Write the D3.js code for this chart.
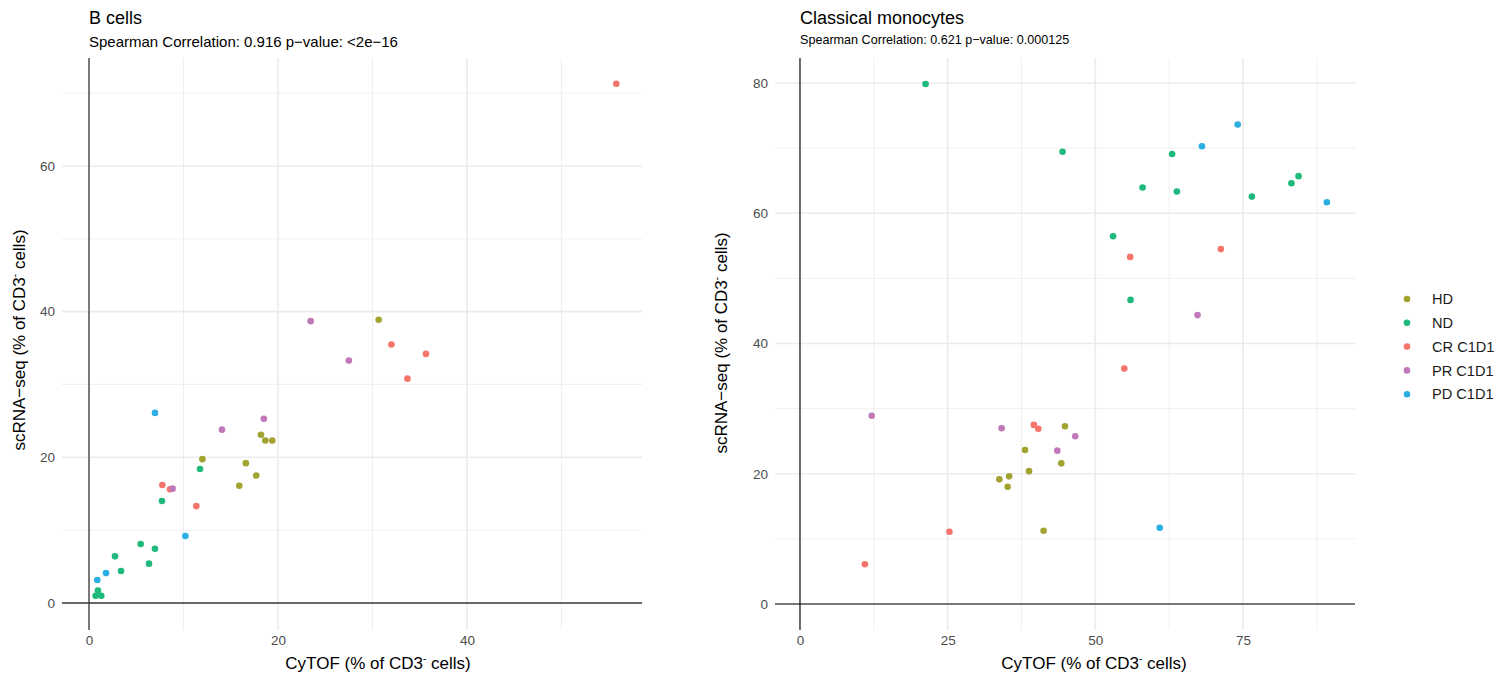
<!DOCTYPE html>
<html>
  <head>
    <meta charset="utf-8">
    <script src="https://d3js.org/d3.v7.min.js"></script>
    <style>
      body { margin: 0; background: #fff; }
      svg { font-family: "Liberation Sans", Arial, sans-serif; }
    </style>
  </head>
<body>
  <script type="text/javascript">
    /*
      Data (x = CyTOF %, y = scRNA-seq %)
    */
    var groups = ["HD", "ND", "CR C1D1", "PR C1D1", "PD C1D1"];
    var groupColors = ["#A3A332", "#1EB97B", "#F5756B", "#C178B8", "#2BAEE4"];

    // B cells
    var bHD = [[30.65, 38.9], [12.0, 19.75], [16.6, 19.2], [18.2, 23.1], [18.66, 22.3], [19.4, 22.3], [17.7, 17.5], [15.9, 16.1]];
    var bND = [[11.75, 18.4], [7.72, 14.0], [5.47, 8.1], [6.98, 7.45], [2.75, 6.4], [6.35, 5.4], [3.39, 4.4], [0.95, 1.7], [0.7, 1.0], [1.3, 1.0]];
    var bCR = [[55.8, 71.3], [32.0, 35.5], [35.66, 34.2], [33.7, 30.8], [7.76, 16.2], [8.57, 15.6], [11.36, 13.3]];
    var bPR = [[23.46, 38.7], [27.5, 33.3], [18.5, 25.3], [14.07, 23.8], [8.85, 15.7]];
    var bPD = [[6.98, 26.1], [10.2, 9.2], [1.8, 4.1], [0.88, 3.15]];

    // Classical monocytes
    var mHD = [[44.86, 27.3], [38.1, 23.65], [44.24, 21.6], [38.77, 20.4], [35.4, 19.6], [33.75, 19.15], [35.15, 18.0], [41.24, 11.26]];
    var mND = [[21.26, 79.85], [44.45, 69.44], [63.0, 69.1], [58.0, 63.95], [63.8, 63.33], [76.5, 62.56], [83.2, 64.6], [84.4, 65.7], [53.0, 56.46], [55.96, 46.7]];
    var mCR = [[55.9, 53.3], [71.25, 54.5], [54.9, 36.15], [39.6, 27.5], [40.35, 26.9], [25.3, 11.1], [11.0, 6.1]];
    var mPR = [[67.3, 44.36], [12.14, 28.9], [34.14, 27.0], [46.6, 25.75], [43.56, 23.55]];
    var mPD = [[74.1, 73.64], [68.05, 70.3], [89.2, 61.7], [60.9, 11.7]];

    var bTicksX = [0, 20, 40], bTicksY = [0, 20, 40, 60];
    var mTicksX = [0, 25, 50, 75], mTicksY = [0, 20, 40, 60, 80];

    var svg = d3.select("body").append("svg")
        .attr("width", 1510)
        .attr("height", 673);

    var color = d3.scaleOrdinal().domain(groups).range(groupColors);

    function drawPanel(cfg) {
      var x = d3.scaleLinear().domain(cfg.xDom).range([cfg.left, cfg.right]);
      var y = d3.scaleLinear().domain(cfg.yDom).range([cfg.bottom, cfg.top]);
      var g = svg.append("g");

      function mids(t) {
        var out = [];
        for (var i = 0; i < t.length; i++) {
          var step = t[1] - t[0];
          out.push(t[i] + step / 2);
        }
        return out;
      }
      var minorX = mids(cfg.ticksX).filter(function(v) { return v < cfg.xDom[1]; });
      var minorY = mids(cfg.ticksY).filter(function(v) { return v < cfg.yDom[1]; });

      // grid
      g.selectAll(".mx").data(minorX).enter().append("line")
          .attr("x1", x).attr("x2", x).attr("y1", cfg.top).attr("y2", cfg.bottom)
          .attr("stroke", "#EBEBEB").attr("stroke-width", 0.8);
      g.selectAll(".my").data(minorY).enter().append("line")
          .attr("y1", y).attr("y2", y).attr("x1", cfg.left).attr("x2", cfg.right)
          .attr("stroke", "#EBEBEB").attr("stroke-width", 0.8);
      g.selectAll(".gx").data(cfg.ticksX).enter().append("line")
          .attr("x1", x).attr("x2", x).attr("y1", cfg.top).attr("y2", cfg.bottom)
          .attr("stroke", "#EBEBEB").attr("stroke-width", 1.6);
      g.selectAll(".gy").data(cfg.ticksY).enter().append("line")
          .attr("y1", y).attr("y2", y).attr("x1", cfg.left).attr("x2", cfg.right)
          .attr("stroke", "#EBEBEB").attr("stroke-width", 1.6);

      // zero lines
      g.append("line")
          .attr("x1", cfg.left).attr("x2", cfg.right)
          .attr("y1", y(0)).attr("y2", y(0))
          .attr("stroke", cfg.zeroColor).attr("stroke-width", cfg.zeroWidth);
      g.append("line")
          .attr("x1", x(0)).attr("x2", x(0))
          .attr("y1", cfg.top).attr("y2", cfg.bottom)
          .attr("stroke", cfg.zeroColor).attr("stroke-width", cfg.zeroWidth);

      // axes (labels only)
      var ax = g.append("g")
          .attr("transform", "translate(0," + (cfg.bottom + 5) + ")")
          .call(d3.axisBottom(x).tickValues(cfg.ticksX).tickSize(0).tickPadding(0));
      var ay = g.append("g")
          .attr("transform", "translate(" + (cfg.left - 7) + ",0)")
          .call(d3.axisLeft(y).tickValues(cfg.ticksY).tickSize(0).tickPadding(0));
      [ax, ay].forEach(function(a) {
        a.select(".domain").remove();
        a.selectAll("text")
            .attr("fill", "#4D4D4D")
            .style("font-size", "13.5px")
            .style("font-family", "'Liberation Sans', Arial, sans-serif");
      });

      // points
      cfg.series.forEach(function(s, i) {
        g.selectAll(".p" + i).data(s).enter().append("circle")
            .attr("cx", function(d) { return x(d[0]); })
            .attr("cy", function(d) { return y(d[1]); })
            .attr("r", 3.3)
            .attr("fill", color(groups[i]));
      });

      // titles
      g.append("text")
          .attr("x", x(0)).attr("y", 24)
          .attr("fill", "#000")
          .style("font-size", "18px")
          .text(cfg.title);
      g.append("text")
          .attr("x", x(0)).attr("y", cfg.subY)
          .attr("fill", "#000")
          .style("font-size", cfg.subSize)
          .text(cfg.subtitle);

      // axis titles
      var xt = g.append("text")
          .attr("x", cfg.xTitleX).attr("y", 669)
          .attr("text-anchor", "middle")
          .attr("fill", "#000")
          .style("font-size", "17px");
      xt.append("tspan").text("CyTOF (% of CD3");
      xt.append("tspan").attr("dy", -7).style("font-size", "10px").text("-");
      xt.append("tspan").attr("dy", 7).text(" cells)");

      var yt = g.append("text")
          .attr("transform", "translate(" + cfg.yTitleX + "," + cfg.yTitleY + ") rotate(-90)")
          .attr("text-anchor", "middle")
          .attr("fill", "#000")
          .style("font-size", "17px");
      yt.append("tspan").text("scRNA\u2212seq (% of CD3");
      yt.append("tspan").attr("dy", -7).style("font-size", "10px").text("-");
      yt.append("tspan").attr("dy", 7).text(" cells)");
    }

    drawPanel({
      left: 62, right: 642, top: 58, bottom: 630,
      xDom: [-2.857, 58.52], yDom: [-3.71, 74.83],
      ticksX: bTicksX, ticksY: bTicksY,
      series: [bHD, bND, bCR, bPR, bPD],
      zeroColor: "#3a3a3a", zeroWidth: 1.3,
      title: "B cells",
      subtitle: "Spearman Correlation: 0.916 p\u2212value: <2e\u221216",
      subY: 47, subSize: "15px",
      xTitleX: 378, yTitleX: 25, yTitleY: 340
    });

    drawPanel({
      left: 775, right: 1355, top: 58, bottom: 630,
      xDom: [-4.23, 93.96], yDom: [-3.99, 83.84],
      ticksX: mTicksX, ticksY: mTicksY,
      series: [mHD, mND, mCR, mPR, mPD],
      zeroColor: "#000", zeroWidth: 1.1,
      title: "Classical monocytes",
      subtitle: "Spearman Correlation: 0.621 p\u2212value: 0.000125",
      subY: 44, subSize: "12.6px",
      xTitleX: 1094, yTitleX: 727, yTitleY: 343
    });

    /*
      Legend
    */
    var legend = svg.append("g");
    groups.forEach(function(name, i) {
      var row = legend.append("g")
          .attr("transform", "translate(1407," + (299 + i * 23.8) + ")");
      row.append("circle").attr("r", 3.3).attr("fill", color(name));
      row.append("text")
          .attr("x", 25).attr("dy", "0.35em")
          .attr("fill", "#1a1a1a")
          .style("font-size", "14.6px")
          .text(name);
    });
  </script>
</body>
</html>
